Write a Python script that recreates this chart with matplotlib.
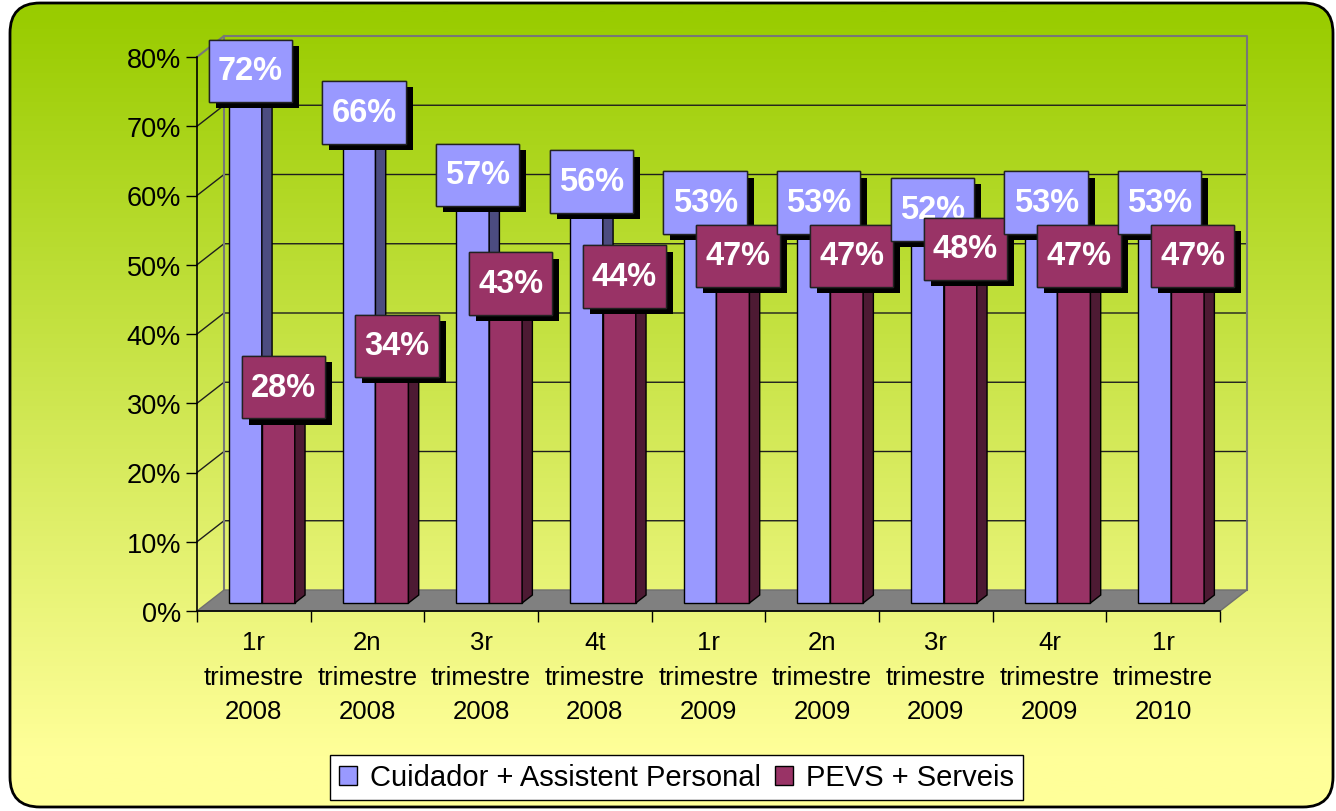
import matplotlib
matplotlib.use("Agg")
import matplotlib.pyplot as plt
import matplotlib.patheffects as pe
from matplotlib.patches import Polygon, FancyBboxPatch, Patch
from matplotlib.path import Path
import numpy as np

plt.rcParams['font.family'] = ['Liberation Sans', 'DejaVu Sans']

# data
categories = ["1r\ntrimestre\n2008", "2n\ntrimestre\n2008", "3r\ntrimestre\n2008",
              "4t\ntrimestre\n2008", "1r\ntrimestre\n2009", "2n\ntrimestre\n2009",
              "3r\ntrimestre\n2009", "4r\ntrimestre\n2009", "1r\ntrimestre\n2010"]
cuidador = [72, 66, 57, 56, 53, 53, 52, 53, 53]
pevs = [28, 34, 43, 44, 47, 47, 48, 47, 47]
series_names = ["Cuidador + Assistent Personal", "PEVS + Serveis"]

W, H = 1336, 812
fig = plt.figure(figsize=(W / 100, H / 100), dpi=100)

# rounded background with green -> yellow gradient
bg = fig.add_axes([0, 0, 1, 1], zorder=-10)
bg.set_xlim(0, W)
bg.set_ylim(0, H)
bg.axis("off")
frame = FancyBboxPatch((10, 4), 1323, 804, boxstyle="round,pad=0,rounding_size=30",
                       fc="none", ec="black", lw=2, zorder=2)
bg.add_patch(frame)
green = np.array([0x99, 0xcc, 0x00]) / 255
yellow = np.array([0xff, 0xff, 0x99]) / 255
ypix = np.linspace(0, H, 300)
s = np.clip((ypix - 15) / 740, 0, 1)[:, None]
grad = (green + s * (yellow - green))[:, None, :]
im = bg.imshow(grad, extent=(0, W, 0, H), aspect="auto", origin="upper", zorder=1)
im.set_clip_path(frame)

# main axes = front plane of the 3d box
ax = fig.add_axes([197 / W, (H - 612) / H, (1220 - 197) / W, (612 - 58) / H])
ax.set_xlim(0, 9)
ax.set_ylim(0, 80)
ax.patch.set_alpha(0)

DX = 27 / (1023 / 9)   # depth offset in data units
DY = 21 / (554 / 80)

# side wall + back wall gridlines
for v in range(10, 80, 10):
    ax.plot([0, DX, 9 + DX], [v, v + DY, v + DY], color="#1e1e1e", lw=1, zorder=1, clip_on=False)
ax.plot([0, DX, 9 + DX, 9 + DX], [80, 80 + DY, 80 + DY, DY], color="#777777", lw=1.5, zorder=1, clip_on=False)
ax.plot([DX, DX], [DY, 80 + DY], color="#777777", lw=1.5, zorder=1, clip_on=False)

# floor
ax.add_patch(Polygon([(0, 0), (9, 0), (9 + DX, DY), (DX, DY)], closed=True,
                     fc="#808080", ec="#707070", lw=1, zorder=1.5, clip_on=False))

x = np.arange(len(categories))
d0, d1 = 0.38, 0.76
ddx, ddy = (d1 - d0) * DX, (d1 - d0) * DY
bw = 0.29
centre = x + 0.48 + d0 * DX
base = d0 * DY

# values, bar x, face colour, side colour, zorder, label lift
specs = [(cuidador, centre - bw / 2, "#9999ff", "#4c4c80", 3, 6.0),
         (pevs, centre + bw / 2, "#993366", "#4d1a33", 4, 4.3)]

for k, (vals, xs, face, side, z, lift) in enumerate(specs):
    ax.bar(xs, vals, width=bw, bottom=base, color=face, edgecolor="black", lw=1, zorder=z)
    for xc, v in zip(xs, vals):
        xl, xr = xc - bw / 2, xc + bw / 2
        top = base + v
        ax.add_patch(Polygon([(xr, base), (xr + ddx, base + ddy), (xr + ddx, top + ddy), (xr, top)],
                             closed=True, fc=side, ec="black", lw=1, zorder=z, clip_on=False))
        ax.add_patch(Polygon([(xl, top), (xr, top), (xr + ddx, top + ddy), (xl + ddx, top + ddy)],
                             closed=True, fc=face, ec="black", lw=1, zorder=z, clip_on=False))


def label_box(x0, y0, width, height, mutation_size):
    # rectangle with more vertical than horizontal padding
    px, py = 0.28 * mutation_size, 0.48 * mutation_size
    x0, y0 = x0 - px, y0 - py
    x1, y1 = x0 + width + 2 * px, y0 + height + 2 * py
    return Path([(x0, y0), (x1, y0), (x1, y1), (x0, y1), (x0, y0)], closed=True)


# value labels
for k, (vals, xs, face, side, z, lift) in enumerate(specs):
    for i, v in enumerate(vals):
        t = ax.text(xs[i] + 0.045, v + lift, f"{v}%", ha="center", va="center",
                    fontsize=23.5, fontweight="bold", color="white",
                    zorder=10 + i + 0.5 * k, clip_on=False,
                    bbox=dict(boxstyle=label_box, fc=face, ec="#222222", lw=1))
        t.get_bbox_patch().set_path_effects(
            [pe.withSimplePatchShadow(offset=(5, -4.5), shadow_rgbFace="black", alpha=1.0), pe.Normal()])

# axes styling
for sp in ["top", "right"]:
    ax.spines[sp].set_visible(False)
for sp in ["left", "bottom"]:
    ax.spines[sp].set_color("black")
    ax.spines[sp].set_linewidth(1.2)

ax.set_yticks(range(0, 81, 10))
ax.set_yticklabels([f"{v}%" for v in range(0, 81, 10)])
ax.tick_params(axis="y", length=8, width=1, pad=3.5, labelsize=19.5, direction="out")
ax.set_xticks(x + 0.5)
ax.set_xticklabels(categories, linespacing=1.55)
ax.tick_params(axis="x", which="major", length=0, pad=14, labelsize=18.5)
ax.set_xticks(np.arange(10), minor=True)
ax.tick_params(axis="x", which="minor", length=8, width=1, direction="out")

# legend
handles = [Patch(fc="#9999ff", ec="black", lw=1), Patch(fc="#993366", ec="black", lw=1)]
leg = fig.legend(handles, series_names, loc="center", bbox_to_anchor=(676.5 / W, 1 - 778.5 / H),
                 ncol=2, fontsize=21, frameon=True, fancybox=False, edgecolor="black",
                 facecolor="white", framealpha=1, handlelength=0.6, handleheight=0.65,
                 handletextpad=0.45, columnspacing=0.5, borderpad=0.3, borderaxespad=0)
leg.get_frame().set_linewidth(1)

fig.savefig("out.png", dpi=100)
